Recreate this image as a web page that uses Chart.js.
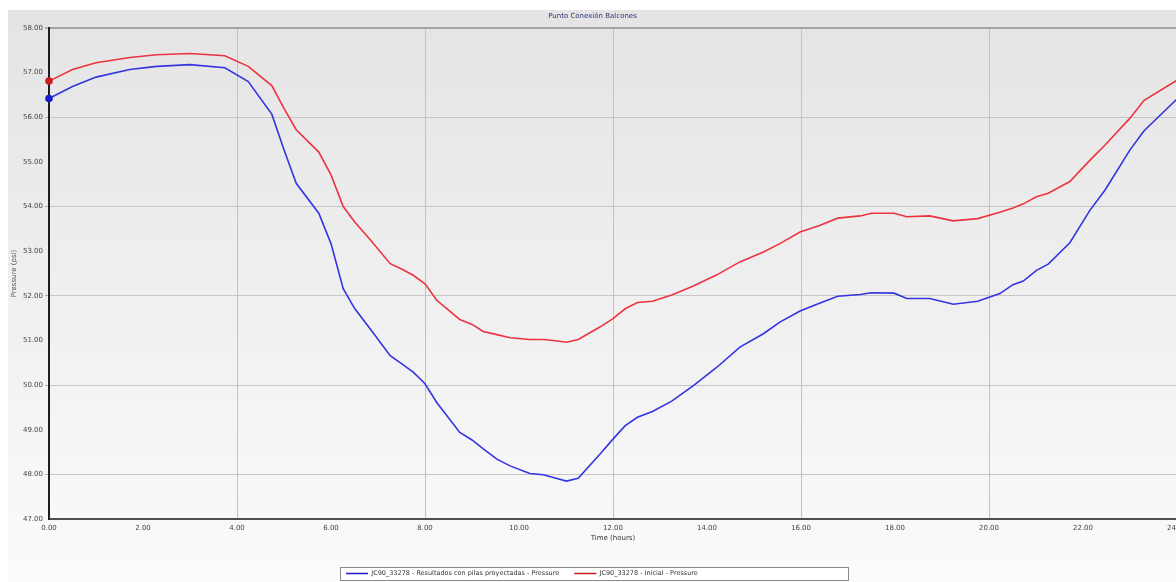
<!DOCTYPE html>
<html>
<head>
<meta charset="utf-8">
<script src="https://cdn.jsdelivr.net/npm/chart.js@4.4.1/dist/chart.umd.min.js"></script>
<style>
  html, body { margin: 0; padding: 0; overflow: hidden; background: #ffffff; width: 1176px; height: 582px; }
  #wrap { position: absolute; left: 0; top: 0; width: 1200px; height: 600px; }
</style>
</head>
<body>
<div id="wrap"><canvas id="c"></canvas></div>
<script>
// ---- data ----
const chartTitle = 'Punto Conexión Balcones';
const xAxisTitle = 'Time (hours)';
const yAxisTitle = 'Pressure (psi)';
const seriesNames = [
  'JC90_33278 - Resultados con pilas proyectadas - Pressure',
  'JC90_33278 - Inicial - Pressure'
];
const timeHours = [0, 0.5, 1.0, 1.72, 2.29, 3.0, 3.74, 4.24, 4.74, 5.0, 5.26, 5.74, 6.0, 6.26, 6.5, 6.84,
  7.26, 7.5, 7.75, 8.0, 8.25, 8.74, 9.0, 9.24, 9.53, 9.81, 10.23, 10.52, 10.73, 11.01, 11.26, 11.72,
  12.0, 12.26, 12.52, 12.84, 13.25, 13.71, 14.21, 14.7, 15.2, 15.55, 15.98, 16.38, 16.78, 17.26, 17.5,
  17.98, 18.25, 18.74, 19.24, 19.76, 20.23, 20.51, 20.73, 21.01, 21.26, 21.72, 22.15, 22.47, 23.0, 23.3, 24.0];
const pressureProyectadas = [56.42, 56.69, 56.90, 57.07, 57.14, 57.18, 57.11, 56.80, 56.07, 55.27, 54.52, 53.85, 53.17, 52.16, 51.72, 51.25,
  50.66, 50.48, 50.29, 50.03, 49.61, 48.94, 48.77, 48.57, 48.34, 48.19, 48.02, 47.99, 47.93, 47.85, 47.91, 48.45,
  48.79, 49.09, 49.28, 49.41, 49.64, 49.99, 50.40, 50.85, 51.15, 51.41, 51.66, 51.83, 51.99, 52.03, 52.07,
  52.06, 51.94, 51.94, 51.81, 51.88, 52.05, 52.25, 52.33, 52.57, 52.71, 53.19, 53.92, 54.37, 55.27, 55.70, 56.41];
const pressureInicial = [56.81, 57.07, 57.22, 57.34, 57.40, 57.43, 57.38, 57.14, 56.71, 56.20, 55.72, 55.22, 54.71, 54.00, 53.66, 53.25,
  52.72, 52.60, 52.46, 52.27, 51.90, 51.47, 51.36, 51.20, 51.13, 51.06, 51.02, 51.02, 51.00, 50.96, 51.02, 51.30,
  51.49, 51.71, 51.85, 51.88, 52.02, 52.22, 52.47, 52.76, 52.98, 53.17, 53.43, 53.57, 53.74, 53.79, 53.85,
  53.85, 53.77, 53.79, 53.68, 53.73, 53.87, 53.97, 54.06, 54.22, 54.30, 54.56, 55.04, 55.38, 55.98, 56.38, 56.83];
const xMin = 0, xMax = 24, xStep = 2;
const yMin = 47, yMax = 58, yStep = 1;

// ---- chart ----
const FONT = 'DejaVu Sans';
const toPts = (xs, ys) => xs.map((x, i) => ({ x: x, y: ys[i] }));

const panelPlugin = {
  id: 'panel',
  beforeDraw(chart) {
    const ctx = chart.ctx;
    ctx.save();
    ctx.fillStyle = '#ffffff';
    ctx.fillRect(0, 0, chart.width, chart.height);
    const g = ctx.createLinearGradient(0, 10, 0, 582);
    g.addColorStop(0, '#e4e4e4');
    g.addColorStop(1, '#fbfbfb');
    ctx.fillStyle = g;
    ctx.fillRect(8, 10, chart.width - 8, chart.height - 10);
    // legend frame
    ctx.fillStyle = '#ffffff';
    ctx.fillRect(340, 567, 508, 13);
    ctx.strokeStyle = '#8a8a8a';
    ctx.lineWidth = 1;
    ctx.strokeRect(340.5, 567.5, 508, 13);
    ctx.restore();
  },
  afterLayout(chart) {
    const lg = chart.legend;
    if (lg) {
      lg.left = 331;
      lg.right = 848;
      lg.top = 555.25;
    }
  }
};

new Chart(document.getElementById('c'), {
  type: 'line',
  data: {
    datasets: [
      {
        label: seriesNames[0],
        data: toPts(timeHours, pressureProyectadas),
        borderColor: '#3434e0',
        backgroundColor: '#3434e0',
        borderWidth: 1.6,
        pointRadius: (c) => c.dataIndex === 0 ? 3 : 0,
        pointBackgroundColor: '#1c1cc8',
        pointBorderColor: '#1c1cc8',
        tension: 0,
        fill: false,
        clip: false
      },
      {
        label: seriesNames[1],
        data: toPts(timeHours, pressureInicial),
        borderColor: '#ec3440',
        backgroundColor: '#ec3440',
        borderWidth: 1.6,
        pointRadius: (c) => c.dataIndex === 0 ? 3 : 0,
        pointBackgroundColor: '#cc1c22',
        pointBorderColor: '#cc1c22',
        tension: 0,
        fill: false,
        clip: false
      }
    ]
  },
  options: {
    responsive: true,
    maintainAspectRatio: false,
    animation: false,
    devicePixelRatio: 1,
    layout: { padding: { left: 8, top: 10, right: 23, bottom: 12.75 } },
    plugins: {
      title: {
        display: true,
        text: chartTitle,
        color: '#2b3577',
        font: { family: FONT, size: 7, weight: 'normal' },
        padding: { top: 2, bottom: 7.6 }
      },
      legend: {
        display: true,
        position: 'bottom',
        align: 'start',
        labels: {
          color: '#333333',
          font: { family: FONT, size: 6.5 },
          usePointStyle: true,
          pointStyle: 'line',
          pointStyleWidth: 22,
          padding: 15
        }
      },
      tooltip: { enabled: false }
    },
    scales: {
      x: {
        type: 'linear',
        min: xMin,
        max: xMax,
        afterFit(s) { s.height = 36.75; },
        ticks: {
          stepSize: xStep,
          color: '#444444',
          font: { family: FONT, size: 7 },
          padding: 2,
          maxRotation: 0,
          autoSkip: false,
          callback: (v) => Number(v).toFixed(2)
        },
        grid: {
          color: (c) => (c.tick && c.tick.value % 4 === 0 && c.tick.value !== 0) ? '#c2c2c2' : 'rgba(0,0,0,0)',
          lineWidth: 1,
          drawTicks: true,
          tickLength: 3,
          tickColor: 'rgba(0,0,0,0)'
        },
        border: { display: true, color: '#505050', width: 2 },
        title: {
          display: true,
          text: xAxisTitle,
          color: '#333333',
          font: { family: FONT, size: 7 },
          padding: { top: 0, bottom: 13.5 }
        }
      },
      y: {
        type: 'linear',
        min: yMin,
        max: yMax,
        afterFit(s) { s.width = 41; },
        ticks: {
          stepSize: yStep,
          color: '#444444',
          font: { family: FONT, size: 7 },
          padding: 2,
          callback: (v) => Number(v).toFixed(2)
        },
        grid: {
          color: (c) => {
            if (!c.tick) return 'rgba(0,0,0,0)';
            if (c.tick.value === yMax) return '#a4a4a4';
            return c.tick.value % 2 === 0 ? '#c6c6c6' : 'rgba(0,0,0,0)';
          },
          lineWidth: (c) => (c.tick && c.tick.value === yMax) ? 2 : 1,
          tickLength: 4,
          tickColor: (c) => (c.tick && c.tick.value % 2 === 0) ? '#b0b0b0' : 'rgba(0,0,0,0)'
        },
        border: { display: true, color: '#1e1e1e', width: 2 },
        title: {
          display: true,
          text: yAxisTitle,
          color: '#555555',
          font: { family: FONT, size: 7 },
          padding: { top: 2, bottom: 0 }
        }
      }
    }
  },
  plugins: [panelPlugin]
});
</script>
</body>
</html>
